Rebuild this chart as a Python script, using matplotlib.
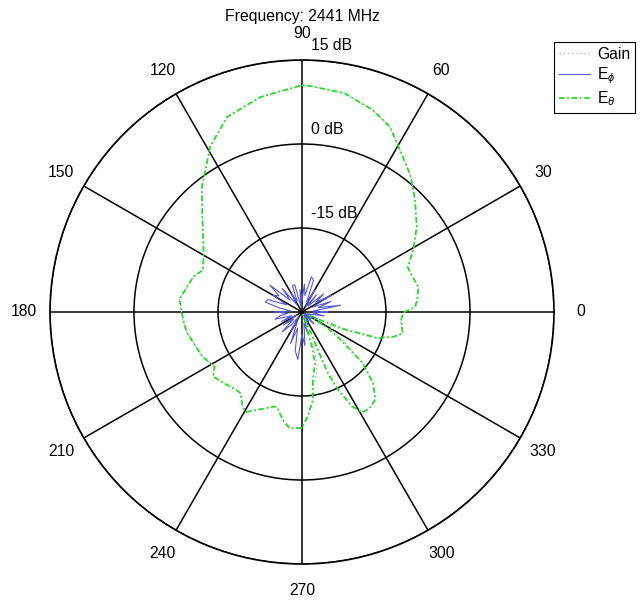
import numpy as np
import matplotlib
matplotlib.use("Agg")
import matplotlib.pyplot as plt

plt.rcParams['font.family'] = ['Liberation Sans', 'DejaVu Sans']
plt.rcParams['mathtext.fontset'] = 'custom'
plt.rcParams['mathtext.rm'] = 'Liberation Sans'
plt.rcParams['mathtext.it'] = 'Liberation Sans:italic'

title = "Frequency: 2441 MHz"
legend_labels = ["Gain", r"E$_{\phi}$", r"E$_{\theta}$"]
angle_ticks = [0, 30, 60, 90, 120, 150, 180, 210, 240, 270, 300, 330]
ring_values = [-15, 0, 15]
ring_labels = ["-15 dB", "0 dB", "15 dB"]

# E_theta (dB) at angles (deg)
etheta_deg = [0, 2.5, 6, 12, 18, 23, 29, 36.5, 44.7, 51, 53, 58.8, 64.6, 70.6, 79, 88, 90,
              101, 111, 119, 128.7, 137, 149, 157, 162, 174, 184, 190, 204, 212, 216, 222,
              230, 233, 238, 241, 253, 255, 260, 264, 270, 273, 277, 279, 284, 286, 288, 290,
              293, 295, 298, 301, 305, 310, 315, 320, 325, 328, 332, 335, 338, 341, 345, 348,
              355.3, 360]
etheta_db = [-11.8, -9.8, -9.3, -8.75, -9.3, -9.5, -7.3, -4.5, -1.6, 0.9, 1.6, 3.8, 6.6, 8.2, 9.8, 10.4, 10.5,
             9.1, 7.3, 3.8, -1.4, -5.7, -9.5, -10.8, -9.6, -8.0, -8.75, -9.1, -10.5, -11.6, -10.4, -11.1,
             -11.8, -11.8, -10.0, -9.6, -12.3, -12.5, -10.4, -9.1, -9.3, -11.25, -14.1, -17.7, -20.5, -23.4, -28.2, -29.5,
             -18.2, -14.6, -10.9, -9.1, -9.0, -9.6, -12.1, -15.9, -22.1, -24.6, -28.5, -27.5, -21.6, -15.7, -13.0, -11.6,
             -12.3, -11.8]
# Total gain (dB), same angles
gain_db = [-11.7, -9.8, -9.3, -8.7, -9.3, -9.5, -7.3, -4.5, -1.6, 0.9, 1.6, 3.8, 6.6, 8.2, 9.8, 10.4, 10.5,
           9.1, 7.3, 3.8, -1.4, -5.7, -9.5, -10.8, -9.6, -8.0, -8.7, -9.1, -10.5, -11.6, -10.4, -11.1,
           -11.8, -11.8, -10.0, -9.6, -12.3, -12.5, -10.4, -9.1, -9.3, -11.2, -13.9, -16.8, -19.0, -21.0, -23.5, -24.0,
           -17.5, -14.4, -10.9, -9.1, -9.0, -9.6, -12.1, -15.7, -21.0, -23.0, -24.5, -24.0, -20.5, -15.4, -13.0, -11.6,
           -12.2, -11.7]

# E_phi (dB), every 5 degrees from 0 to 355
ephi_deg = list(range(0, 360, 5))
ephi_db = [-25.5, -28, -23, -27, -24.5, -28, -24, -27, -25, -28.5, -26, -29,
           -25.5, -28, -24, -23.5, -27, -25, -28, -26, -29, -25, -25, -28,
           -26, -28.5, -24.5, -27, -22.5, -25, -24, -27, -23.5, -23.2, -26, -28,
           -25, -27.5, -26, -25, -28, -26, -29, -26, -28, -25, -27, -29,
           -26, -28, -24, -27, -23, -21.5, -26, -24, -28, -26, -29, -27.5,
           -29, -28, -29.5, -27, -29, -28, -29.5, -27, -29, -28.5, -26, -28]

fig = plt.figure(figsize=(6.40, 6.02), dpi=100)
cx, cy, R = 302, 312, 252
W, H = 640, 602
ax = fig.add_axes([(cx - R) / W, (H - cy - R) / H, 2 * R / W, 2 * R / H], projection='polar')
ax.set_theta_zero_location('E')
ax.set_theta_direction(1)
ax.set_ylim(-30, 15)
ax.set_xticks(np.radians(angle_ticks))
ax.set_xticklabels([])
ax.set_yticks(ring_values)
ax.set_yticklabels([])
ax.grid(True, color='black', lw=1.1, ls='-')
ax.spines['polar'].set_color('black')
ax.spines['polar'].set_linewidth(1.2)
ax.tick_params(length=0)

th_phi = np.radians(np.append(ephi_deg, 360))
r_phi = np.append(ephi_db, ephi_db[0])

l1, = ax.plot(np.radians(etheta_deg), gain_db, color='#b8b8b8', lw=1.0, ls=(0, (1, 2)))
l2, = ax.plot(th_phi, r_phi, color='#5858d8', lw=0.8)
l3, = ax.plot(np.radians(etheta_deg), etheta_db, color='#22dd22', lw=1.3, ls=(0, (3, 1.5, 1, 1.5)))

fs = 11.3
for a in angle_ticks:
    ax.text(np.radians(a), 19.7, str(a), ha='center', va='center', fontsize=fs, clip_on=False)

for v, lab in zip(ring_values, ring_labels):
    ax.annotate(lab, xy=(np.pi / 2, v), xytext=(9, 14), textcoords='offset pixels',
                ha='left', va='center', fontsize=fs, annotation_clip=False)

fig.text(cx / W, 1 - 17 / H, title, ha='center', va='center', fontsize=fs)

leg = fig.legend([l1, l2, l3], legend_labels, loc='upper left',
                 bbox_to_anchor=(554 / W, 1 - 42 / H), fontsize=fs,
                 frameon=True, fancybox=False, shadow=False, framealpha=1,
                 handlelength=2.0, handletextpad=0.45, labelspacing=0.22,
                 borderpad=0.3, borderaxespad=0)
leg.get_frame().set_edgecolor('black')
leg.get_frame().set_linewidth(0.8)

fig.savefig('out.png', dpi=100)
